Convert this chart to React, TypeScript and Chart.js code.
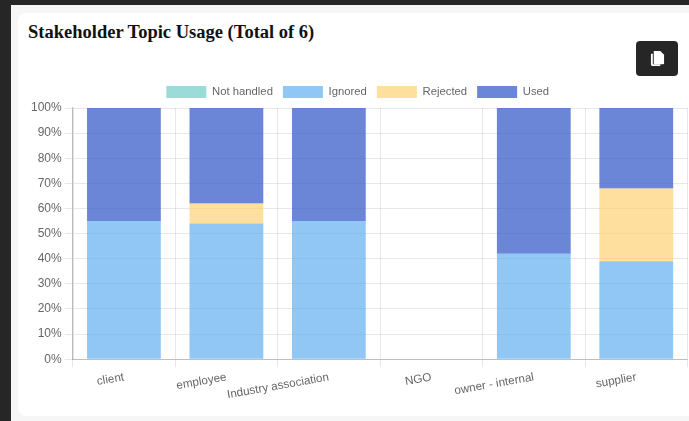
import React, { useEffect, useRef } from "react";
import { Chart, registerables } from "chart.js";

Chart.register(...registerables);

const categories = ["client", "employee", "Industry association", "NGO", "owner - internal", "supplier"];
const notHandled = [0, 0, 0, 0, 0, 0];
const ignored = [55, 54, 55, 0, 42, 39];
const rejected = [0, 8, 0, 0, 0, 29];
const used = [45, 38, 45, 0, 58, 32];

export default function App() {
  const ref = useRef<HTMLCanvasElement | null>(null);

  useEffect(() => {
    document.body.style.margin = "0";
    document.body.style.overflow = "hidden";
    const family = "'Liberation Sans', Helvetica, Arial, sans-serif";
    const font = { family, size: 12 };
    const chart = new Chart(ref.current!, {
      type: "bar",
      data: {
        labels: categories,
        datasets: [
          { label: "Not handled", data: notHandled, backgroundColor: "rgba(75,192,184,0.55)", borderWidth: 0 },
          { label: "Ignored", data: ignored, backgroundColor: "rgba(92,172,240,0.68)", borderWidth: 0 },
          { label: "Rejected", data: rejected, backgroundColor: "rgba(254,208,110,0.68)", borderWidth: 0 },
          { label: "Used", data: used, backgroundColor: "rgba(52,88,200,0.73)", borderWidth: 0 },
        ],
      },
      options: {
        animation: false,
        responsive: false,
        layout: { padding: { left: 0, right: 1.5, top: 0, bottom: 0 } },
        plugins: {
          tooltip: { enabled: false },
          legend: {
            position: "top",
            labels: { boxWidth: 40, boxHeight: 12, color: "#666", font: { family, size: 11.3 }, padding: 10 },
          },
        },
        scales: {
          x: {
            stacked: true,
            ticks: { color: "#666", font: { family, size: 11.7 }, minRotation: 10, maxRotation: 10, autoSkip: false },
            grid: { color: "rgba(0,0,0,0.09)" },
            border: { color: "rgba(0,0,0,0.18)" },
          },
          y: {
            stacked: true,
            min: 0,
            max: 100,
            ticks: { stepSize: 10, color: "#666", font, callback: (v: any) => v + "%" },
            grid: { color: "rgba(0,0,0,0.09)" },
            border: { color: "rgba(0,0,0,0.2)", width: 1.5 },
          },
        },
      },
    });
    return () => chart.destroy();
  }, []);

  return (
    <div style={{ position: "fixed", inset: 0, background: "#262626", overflow: "hidden", filter: "blur(0.35px)" }}>
      <div style={{ position: "absolute", left: 11, top: 5, right: 0, bottom: 0, background: "#f6f6f6" }} />
      <div style={{ position: "absolute", left: 18, top: 13, right: 0, height: 403, background: "#fff", borderRadius: "8px 0 0 8px" }} />
      <div style={{ position: "absolute", left: 28, top: 20, fontFamily: "'Liberation Serif', serif", fontWeight: 700, fontSize: 18.5, lineHeight: "24px", color: "#111", whiteSpace: "nowrap" }}>
        Stakeholder Topic Usage (Total of 6)
      </div>
      <div style={{ position: "absolute", left: 636, top: 41, width: 42, height: 35, background: "#262626", borderRadius: 4, display: "flex", alignItems: "center", justifyContent: "center" }}>
        <svg width="15" height="17" viewBox="0 0 16 18">
          <path d="M1 4h2v11h8v2H3a2 2 0 0 1-2-2z" fill="#fff" />
          <path d="M4 1h7l4 4v9a1 1 0 0 1-1 1H4z" fill="#fff" />
        </svg>
      </div>
      <canvas ref={ref} width={661} height={329} style={{ position: "absolute", left: 28, top: 76, width: 661, height: 329 }} />
    </div>
  );
}
